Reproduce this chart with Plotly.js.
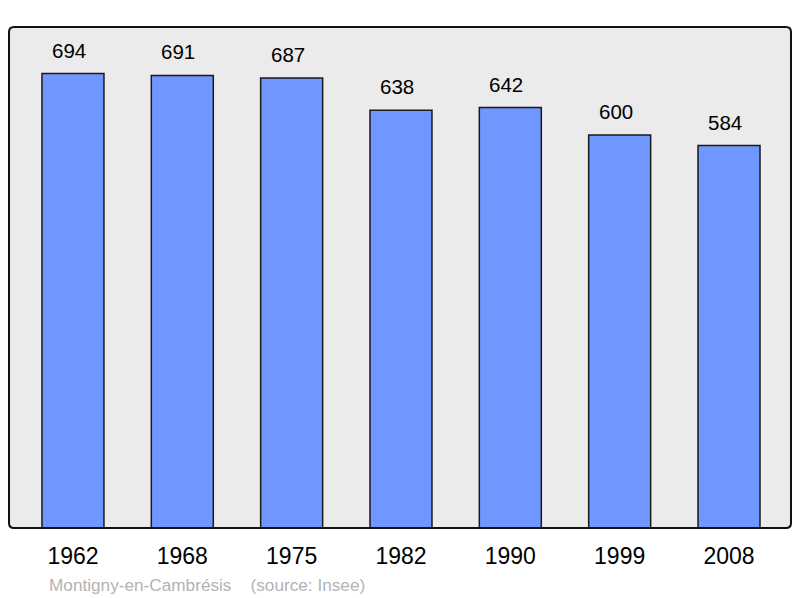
<!DOCTYPE html>
<html><head><meta charset="utf-8">
<script src="https://cdn.plot.ly/plotly-3.0.1.min.js"></script>
<style>html,body{margin:0;padding:0;background:#fff}#c{width:800px;height:598px}</style>
</head><body><div id="c"></div>
<script>
const years = ["1962","1968","1975","1982","1990","1999","2008"];
const population = [694, 691, 687, 638, 642, 600, 584];
const footer = "Montigny-en-Cambrésis    (source: Insee)";

const idx = years.map((_, i) => i);
const trace = {
  type: "bar", x: idx, y: population, width: 0.567,
  marker: {color: "#7096ff", line: {color: "#1a1a1a", width: 1.5}},
  hoverinfo: "none"
};
const ann = population.map((v, i) => ({
  x: i, y: v, xref: "x", yref: "y", text: String(v), showarrow: false,
  yanchor: "bottom", yshift: 10, xshift: -4,
  font: {family: "Liberation Sans, Arial, sans-serif", size: 20.5, color: "#000"}
}));
ann.push({
  xref: "paper", yref: "paper", x: 38/782, y: -0.113, xanchor: "left", yanchor: "middle",
  text: footer, showarrow: false,
  font: {family: "Liberation Sans, Arial, sans-serif", size: 17.2, color: "#b3b3b3"}
});
const rx = 5/782, ry = 5/501;
const path = `M ${rx},0 L ${1-rx},0 Q 1,0 1,${ry} L 1,${1-ry} Q 1,1 ${1-rx},1 L ${rx},1 Q 0,1 0,${1-ry} L 0,${ry} Q 0,0 ${rx},0 Z`;
const layout = {
  width: 800, height: 598,
  margin: {l: 9, r: 9, t: 27, b: 70},
  paper_bgcolor: "#fff", plot_bgcolor: "#ebebeb",
  showlegend: false,
  xaxis: {range: [-0.585, 6.567], tickmode: "array", tickvals: idx, ticktext: years,
    showgrid: false, zeroline: false, showline: false, ticks: "",
    tickfont: {family: "Liberation Sans, Arial, sans-serif", size: 23, color: "#000"},
    ticklabelstandoff: 12},
  yaxis: {range: [0, 765], showgrid: false, zeroline: false, showticklabels: false, showline: false},
  annotations: ann,
  shapes: [{type: "path", xref: "paper", yref: "paper", path: path,
    line: {color: "#111", width: 2}, fillcolor: "rgba(0,0,0,0)", layer: "above"}]
};
Plotly.newPlot("c", [trace], layout, {staticPlot: true, displayModeBar: false});
</script></body></html>
